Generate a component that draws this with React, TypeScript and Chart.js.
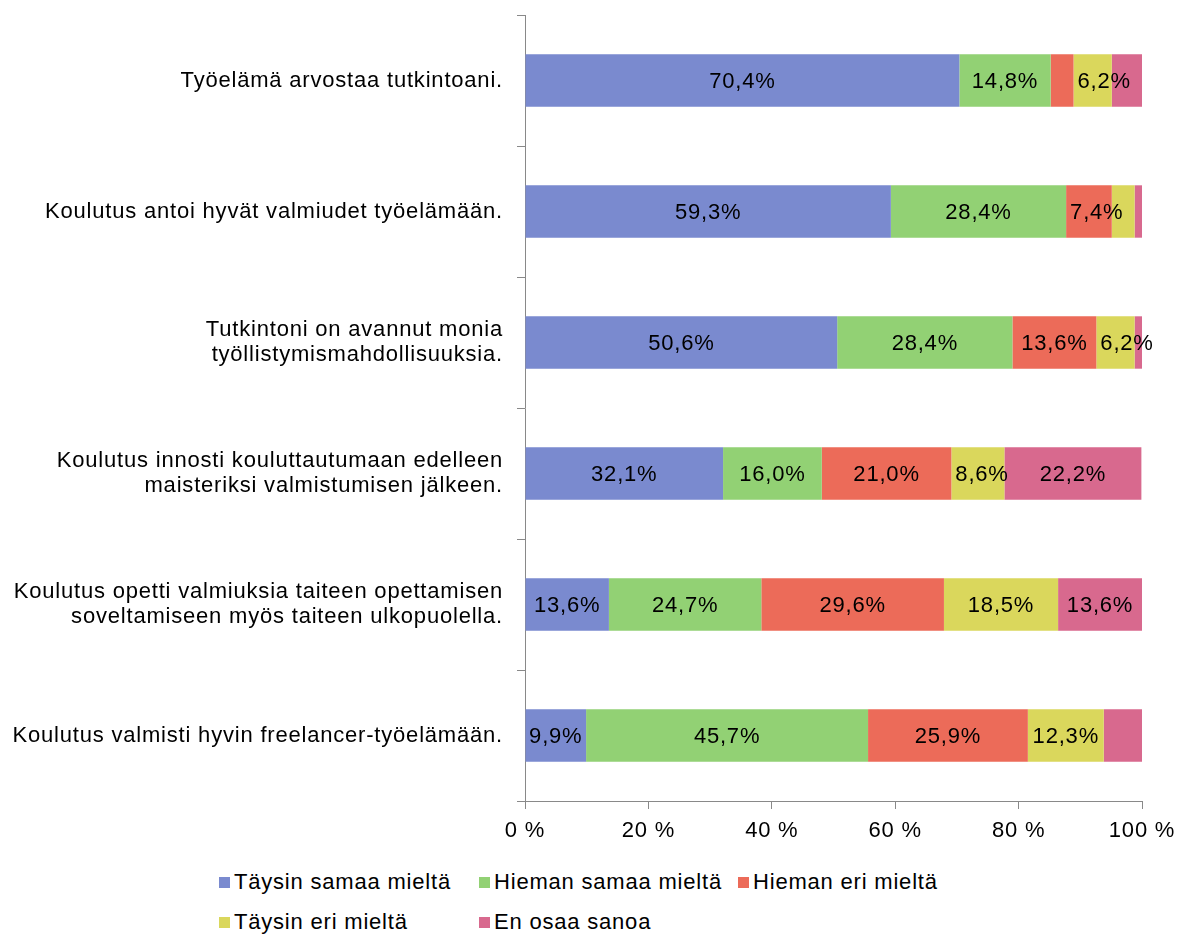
import React, { useEffect, useRef } from "react";
import { Chart, registerables } from "chart.js";

Chart.register(...registerables);

const categories: string[][] = [
  ["Työelämä arvostaa tutkintoani."],
  ["Koulutus antoi hyvät valmiudet työelämään."],
  ["Tutkintoni on avannut monia", "työllistymismahdollisuuksia."],
  ["Koulutus innosti kouluttautumaan edelleen", "maisteriksi valmistumisen jälkeen."],
  ["Koulutus opetti valmiuksia taiteen opettamisen", "soveltamiseen myös taiteen ulkopuolella."],
  ["Koulutus valmisti hyvin freelancer-työelämään."],
];

const seriesNames = [
  "Täysin samaa mieltä",
  "Hieman samaa mieltä",
  "Hieman eri mieltä",
  "Täysin eri mieltä",
  "En osaa sanoa",
];

const taysinSamaa = [70.4, 59.3, 50.6, 32.1, 13.6, 9.9];
const hiemanSamaa = [14.8, 28.4, 28.4, 16.0, 24.7, 45.7];
const hiemanEri = [3.7, 7.4, 13.6, 21.0, 29.6, 25.9];
const taysinEri = [6.2, 3.7, 6.2, 8.6, 18.5, 12.3];
const enOsaa = [4.9, 1.2, 1.2, 22.2, 13.6, 6.2];

const xTicks = [0, 20, 40, 60, 80, 100];

// [seriesIndex, rowIndex] pairs whose value label is not shown
const hiddenLabels: number[][] = [[4, 5]];
const labelMin = 6;

const colors = ["#7A8ACF", "#92D174", "#EC6B59", "#DAD75C", "#D8698E"];

const FONT = "'Liberation Sans', Arial, sans-serif";
const FS = 22;
const LS = "0.8px";

const spacingPlugin = {
  id: "spacing",
  beforeUpdate(chart: any) {
    chart.ctx.letterSpacing = LS;
  },
  beforeDraw(chart: any) {
    chart.ctx.letterSpacing = LS;
  },
};

const valueLabelPlugin = {
  id: "valueLabels",
  afterDatasetsDraw(chart: any) {
    const ctx = chart.ctx;
    ctx.save();
    ctx.letterSpacing = LS;
    ctx.font = `${FS}px ${FONT}`;
    ctx.fillStyle = "#000";
    ctx.textBaseline = "middle";
    chart.data.datasets.forEach((ds: any, di: number) => {
      const meta = chart.getDatasetMeta(di);
      meta.data.forEach((bar: any, i: number) => {
        const v = ds.data[i];
        if (v < labelMin) return;
        if (hiddenLabels.some((h) => h[0] === di && h[1] === i)) return;
        const txt = v.toFixed(1).replace(".", ",") + "%";
        const w = ctx.measureText(txt).width;
        const start = Math.min(bar.x, bar.base);
        const seg = Math.abs(bar.x - bar.base);
        if (w > seg - 4) {
          ctx.textAlign = "left";
          ctx.fillText(txt, start + 4, bar.y + 1);
        } else {
          ctx.textAlign = "center";
          ctx.fillText(txt, start + seg / 2, bar.y + 1);
        }
      });
    });
    ctx.restore();
  },
};

const legendPos = [
  { left: 219, top: 870 },
  { left: 479, top: 870 },
  { left: 738, top: 870 },
  { left: 219, top: 910 },
  { left: 479, top: 910 },
];

export default function App() {
  const ref = useRef<HTMLCanvasElement | null>(null);

  useEffect(() => {
    document.body.style.margin = "0";
    if (!ref.current) return;
    const all = [taysinSamaa, hiemanSamaa, hiemanEri, taysinEri, enOsaa];
    const chart = new Chart(ref.current, {
      type: "bar",
      data: {
        labels: categories as any,
        datasets: all.map((d, i) => ({
          label: seriesNames[i],
          data: d,
          backgroundColor: colors[i],
          borderWidth: 0,
          barPercentage: 0.4,
          categoryPercentage: 1,
        })),
      },
      options: {
        indexAxis: "y",
        animation: false,
        responsive: false,
        maintainAspectRatio: false,
        layout: { padding: { left: 0, right: 35, top: 15, bottom: 8 } },
        plugins: {
          legend: { display: false },
          tooltip: { enabled: false },
        },
        scales: {
          x: {
            stacked: true,
            min: 0,
            max: 100,
            afterBuildTicks: (scale: any) => {
              scale.ticks = xTicks.map((v) => ({ value: v }));
            },
            afterFit: (scale: any) => {
              scale.height = 51;
              scale.paddingLeft = 0;
              scale.paddingRight = 0;
            },
            grid: {
              drawOnChartArea: false,
              drawTicks: true,
              tickLength: 8,
              color: "#898989",
            },
            border: { color: "#898989", width: 1 },
            ticks: {
              color: "#000",
              font: { family: FONT, size: FS },
              padding: 9,
              maxRotation: 0,
              callback: (v: any) => `${v} %`,
            },
          },
          y: {
            stacked: true,
            afterFit: (scale: any) => {
              scale.width = 525;
              scale.paddingTop = 0;
              scale.paddingBottom = 0;
            },
            grid: {
              offset: true,
              drawOnChartArea: false,
              drawTicks: true,
              tickLength: 8,
              color: "#898989",
            },
            border: { color: "#898989", width: 1 },
            ticks: {
              color: "#000",
              font: { family: FONT, size: FS, lineHeight: 1.14 },
              padding: 14,
              autoSkip: false,
            },
          },
        },
      },
      plugins: [spacingPlugin, valueLabelPlugin],
    } as any);
    return () => chart.destroy();
  }, []);

  return (
    <div style={{ position: "relative", width: 1177, height: 936, background: "#fff", fontFamily: FONT }}>
      <canvas ref={ref} width={1177} height={860} style={{ position: "absolute", left: 0, top: 0 }} />
      {seriesNames.map((n, i) => (
        <div
          key={n}
          style={{
            position: "absolute",
            left: legendPos[i].left,
            top: legendPos[i].top,
            display: "flex",
            alignItems: "center",
            fontSize: FS,
            letterSpacing: LS,
            color: "#000",
            whiteSpace: "nowrap",
            lineHeight: "24px",
          }}
        >
          <span style={{ display: "inline-block", width: 11, height: 11, background: colors[i], marginRight: 4 }} />
          {n}
        </div>
      ))}
    </div>
  );
}
